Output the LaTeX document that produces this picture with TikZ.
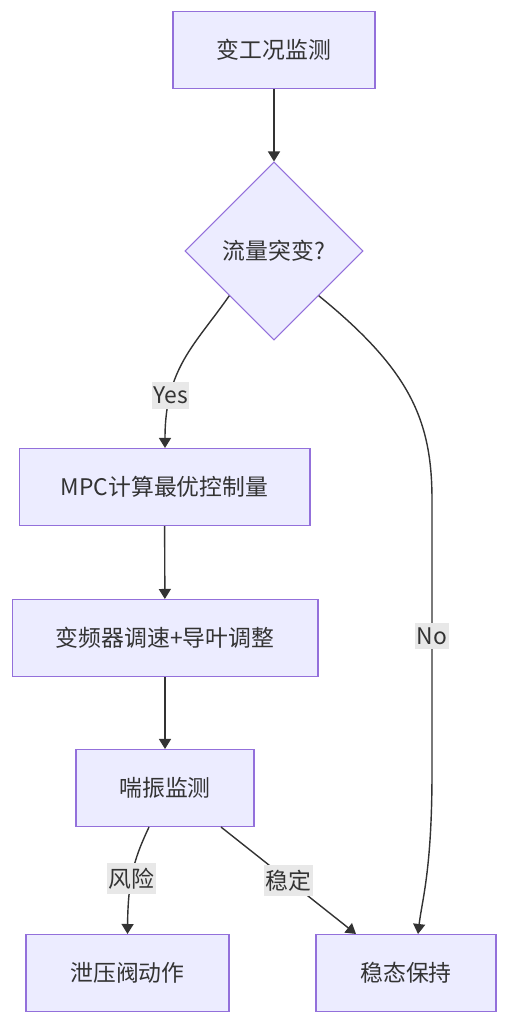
\documentclass[tikz,border=0pt]{standalone}
\usepackage{fontspec}
\setmainfont{Noto Sans CJK SC}
\usepackage{tikz}
\usetikzlibrary{shapes, arrows.meta, positioning}
\definecolor{boxfill}{HTML}{ECECFF}
\definecolor{boxline}{HTML}{9370DB}
\definecolor{ink}{HTML}{333333}
\definecolor{lblfill}{HTML}{E8E8E8}

\begin{document}
\begin{tikzpicture}[x=0.02cm, y=-0.02cm, >={Triangle[length=2mm, width=2.4mm]},
    box/.style={draw=boxline, fill=boxfill, line width=0.6pt, minimum height=1.54cm,
        text=ink, font=\fontsize{13pt}{15pt}\selectfont},
    decision/.style={diamond, aspect=1, draw=boxline, fill=boxfill, line width=0.6pt,
        minimum width=3.56cm, minimum height=3.56cm, inner sep=0pt,
        text=ink, font=\fontsize{13pt}{15pt}\selectfont},
    flow/.style={->, draw=ink, line width=0.8pt},
    lbl/.style={fill=lblfill, text=ink, inner xsep=0.8pt, inner ysep=2.8pt,
        font=\fontsize{13pt}{15pt}\selectfont}]

    \useasboundingbox (0,0) rectangle (507,1024);

    % Boxes
    \node[box, minimum width=4.04cm] (monitor) at (274,50) {变工况监测};
    \node[decision] (jump) at (274,251) {流量突变?};
    \node[box, minimum width=5.82cm] (mpc) at (164.5,487) {MPC计算最优控制量};
    \node[box, minimum width=6.12cm] (vfd) at (165,638) {变频器调速+导叶调整};
    \node[box, minimum width=3.56cm] (surge) at (165,788) {喘振监测};
    \node[box, minimum width=4.06cm] (valve) at (127.5,973) {泄压阀动作};
    \node[box, minimum width=3.60cm] (steady) at (406,973) {稳态保持};

    % Straight arrows
    \foreach \a/\b in {monitor/jump, mpc/vfd, vfd/surge} {
        \draw[flow] (\a) -- (\b);
    }

    % Yes branch
    \draw[flow] (jump.south west) .. controls (195,345) and (165,368) .. (mpc.north -| 165,0)
        node[lbl, pos=0.74] {Yes};

    % No branch
    \draw[flow] (jump.south east) .. controls (410,370) and (432,420) .. (432,500)
        -- (432,772) node[lbl, midway] {No}
        .. controls (432,870) and (422,900) .. (steady.north -| 418,0);

    % Surge outcomes
    \draw[flow] (surge.south -| 149,0) .. controls (136,855) and (128,875) .. (valve.north)
        node[lbl, pos=0.6] {风险};
    \draw[flow] (surge.south -| 221,0) -- (steady.north -| 356,0)
        node[lbl, midway] {稳定};
\end{tikzpicture}
\end{document}
